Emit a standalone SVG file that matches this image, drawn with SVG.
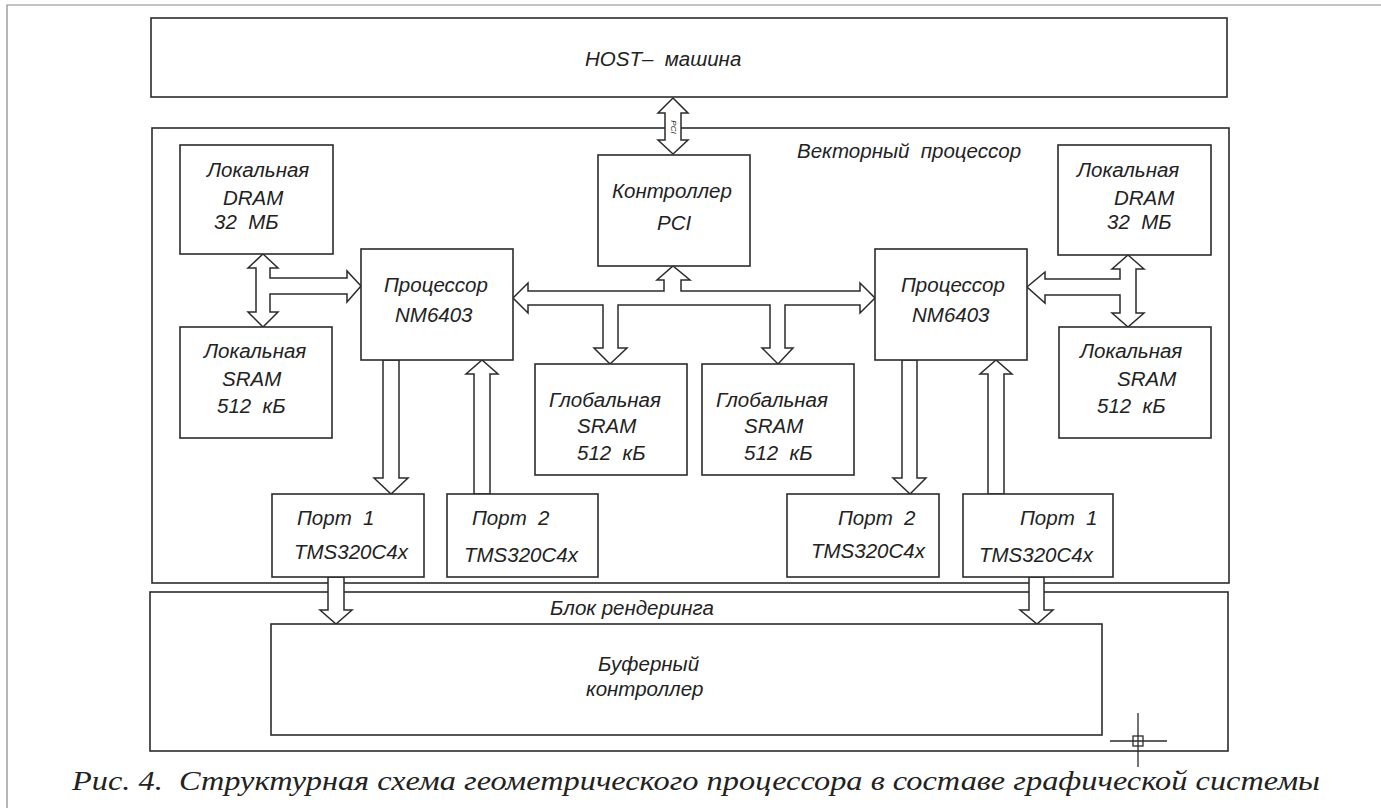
<svg xmlns="http://www.w3.org/2000/svg" width="1381" height="808" viewBox="0 0 1381 808">
<style>
.box{fill:none;stroke:#2b2b2b;stroke-width:1.6}
.nb{fill:#fff;stroke:#2b2b2b;stroke-width:1.6}
.ar{fill:#fff;stroke:#2b2b2b;stroke-width:1.5;stroke-linejoin:miter}
.t{font-family:"Liberation Sans",Arial,sans-serif;font-style:italic;font-size:20.5px;fill:#222}
.cap{font-family:"Liberation Serif","Times New Roman",serif;font-style:italic;font-size:27px;fill:#222}
</style>
<rect width="1381" height="808" fill="#fff"/>
<path d="M7,808 V5 H1381" fill="none" stroke="#888" stroke-width="1.2"/>

<g id="host"><rect class="box" x="151" y="18" width="1076" height="79"/><text class="t" x="585" y="66">HOST–&#160; машина</text></g>
<g id="vector"><rect class="box" x="152" y="128" width="1077" height="455"/><text class="t" x="797" y="158">Векторный&#160; процессор</text></g>
<g id="render"><rect class="box" x="150" y="592" width="1078" height="159"/><text class="t" x="550" y="615">Блок рендеринга</text></g>

<g id="connectors">
<path class="ar" d="M673,98 L688,113 L681,113 L681,140 L688,140 L673,154 L658,140 L665,140 L665,113 L658,113 Z"/>
<text x="673" y="127" transform="rotate(90 673 127)" text-anchor="middle" dominant-baseline="middle" style="font-family:'Liberation Sans',sans-serif;font-style:italic;font-size:8px;fill:#222">PCI</text>
<path class="ar" d="M263,254 L278,268 L270,268 L270,278 L347,278 L347,271 L361,286 L347,302 L347,294 L270,294 L270,312 L278,312 L263,327 L248,312 L256,312 L256,268 L248,268 Z"/>
<path class="ar" d="M1128,255 L1144,269 L1136,269 L1136,313 L1144,313 L1128,327 L1112,313 L1120,313 L1120,295 L1045,295 L1045,303 L1027,287 L1045,272 L1045,279 L1120,279 L1120,269 L1112,269 Z"/>
<path class="ar" d="M513,298 L528,283 L528,291 L664,291 L664,280 L657,280 L673,266 L690,280 L681,280 L681,291 L860,291 L860,283 L875,298 L860,313 L860,305 L785,305 L785,348 L793,348 L778,364 L762,348 L770,348 L770,305 L618,305 L618,348 L627,348 L610,364 L594,348 L603,348 L603,305 L528,305 L528,313 Z"/>
<path class="ar" d="M383,360 L399,360 L399,478 L408,478 L391,494 L374,478 L383,478 Z"/>
<path class="ar" d="M474,494 L474,374 L466,374 L482,360 L498,374 L490,374 L490,494 Z"/>
<path class="ar" d="M902,360 L917,360 L917,478 L926,478 L910,494 L893,478 L902,478 Z"/>
<path class="ar" d="M988,494 L988,374 L980,374 L996,360 L1012,374 L1004,374 L1004,494 Z"/>
<path class="ar" d="M328,577 L344,577 L344,610 L352,610 L336,624 L320,610 L328,610 Z"/>
<path class="ar" d="M1029,577 L1044,577 L1044,610 L1053,610 L1037,624 L1020,610 L1029,610 Z"/>
</g>

<g id="dram-left"><rect class="nb" x="180" y="145" width="153" height="109"/><text class="t" x="207" y="177">Локальная</text><text class="t" x="223" y="205">DRAM</text><text class="t" x="214" y="229">32&#160; МБ</text></g>
<g id="sram-left"><rect class="nb" x="180" y="327" width="152" height="111"/><text class="t" x="204" y="358">Локальная</text><text class="t" x="222" y="386">SRAM</text><text class="t" x="217" y="413">512&#160; кБ</text></g>
<g id="proc-left"><rect class="nb" x="361" y="249" width="152" height="111"/><text class="t" x="384" y="292">Процессор</text><text class="t" x="395" y="322">NM6403</text></g>
<g id="pci"><rect class="nb" x="598" y="155" width="152" height="111"/><text class="t" x="612" y="198">Контроллер</text><text class="t" x="657" y="230">PCI</text></g>
<g id="proc-right"><rect class="nb" x="875" y="249" width="152" height="111"/><text class="t" x="901" y="292">Процессор</text><text class="t" x="912" y="322">NM6403</text></g>
<g id="dram-right"><rect class="nb" x="1058" y="145" width="153" height="110"/><text class="t" x="1077" y="177">Локальная</text><text class="t" x="1114" y="205">DRAM</text><text class="t" x="1107" y="229">32&#160; МБ</text></g>
<g id="sram-right"><rect class="nb" x="1059" y="327" width="152" height="111"/><text class="t" x="1080" y="358">Локальная</text><text class="t" x="1117" y="386">SRAM</text><text class="t" x="1097" y="413">512&#160; кБ</text></g>
<g id="gsram1"><rect class="nb" x="535" y="364" width="152" height="111"/><text class="t" x="549" y="407">Глобальная</text><text class="t" x="577" y="433">SRAM</text><text class="t" x="577" y="460">512&#160; кБ</text></g>
<g id="gsram2"><rect class="nb" x="702" y="364" width="152" height="111"/><text class="t" x="716" y="407">Глобальная</text><text class="t" x="744" y="433">SRAM</text><text class="t" x="744" y="460">512&#160; кБ</text></g>
<g id="port1-left"><rect class="nb" x="272" y="494" width="152" height="83"/><text class="t" x="297" y="525">Порт&#160; 1</text><text class="t" x="294" y="559">TMS320C4x</text></g>
<g id="port2-left"><rect class="nb" x="447" y="494" width="151" height="83"/><text class="t" x="472" y="525">Порт&#160; 2</text><text class="t" x="464" y="562">TMS320C4x</text></g>
<g id="port2-right"><rect class="nb" x="787" y="494" width="152" height="83"/><text class="t" x="838" y="525">Порт&#160; 2</text><text class="t" x="811" y="558">TMS320C4x</text></g>
<g id="port1-right"><rect class="nb" x="963" y="494" width="150" height="83"/><text class="t" x="1020" y="525">Порт&#160; 1</text><text class="t" x="979" y="562">TMS320C4x</text></g>
<g id="buffer"><rect class="nb" x="271" y="624" width="831" height="111"/><text class="t" x="598" y="671">Буферный</text><text class="t" x="586" y="696">контроллер</text></g>

<g id="crosshair" stroke="#2b2b2b" stroke-width="1.3" fill="none"><path d="M1138,713 V767 M1110,741 H1167"/><rect x="1133" y="736" width="10" height="10"/></g>

<text class="cap" x="72" y="790" textLength="1248" lengthAdjust="spacingAndGlyphs">Рис. 4.&#160; Структурная схема геометрического процессора в составе графической системы</text>
</svg>
